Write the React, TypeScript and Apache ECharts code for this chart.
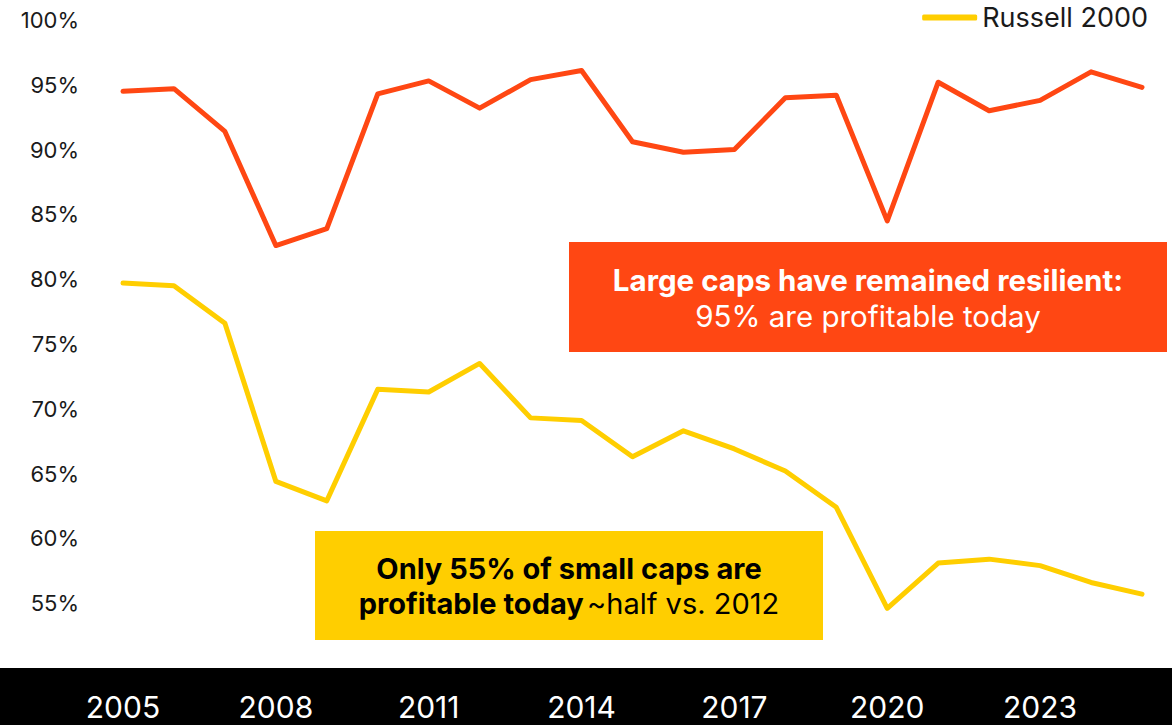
import React, { useEffect, useRef } from "react";
import * as echarts from "echarts";

const years = [
  "2005", "2006", "2007", "2008", "2009", "2010", "2011", "2012", "2013", "2014",
  "2015", "2016", "2017", "2018", "2019", "2020", "2021", "2022", "2023", "2024", "2025",
];
const sp500 = [
  94.5, 94.7, 91.4, 82.6, 83.9, 94.3, 95.3, 93.2, 95.4, 96.1,
  90.6, 89.8, 90.0, 94.0, 94.2, 84.5, 95.2, 93.0, 93.8, 96.0, 94.8,
];
const russell2000 = [
  79.7, 79.5, 76.6, 64.4, 62.9, 71.5, 71.3, 73.5, 69.3, 69.1,
  66.3, 68.3, 66.9, 65.2, 62.4, 54.6, 58.1, 58.4, 57.9, 56.6, 55.7,
];
const yTicks = { min: 50, max: 100, interval: 5 };

const RED = "#FF4713";
const YELLOW = "#FFCE00";
const FONT = "Inter, 'Noto Sans', sans-serif";

export default function App() {
  const ref = useRef<HTMLDivElement>(null);
  useEffect(() => {
    if (!ref.current) return;
    const chart = echarts.init(ref.current, undefined, { renderer: "svg" });
    chart.setOption({
      animation: false,
      textStyle: { fontFamily: FONT },
      grid: { left: 123, right: 30, top: 20, bottom: 57 },
      legend: {
        data: ["Russell 2000"],
        right: 24,
        top: 4,
        padding: 0,
        icon: "roundRect",
        itemWidth: 55,
        itemHeight: 6,
        itemGap: 5,
        textStyle: { fontSize: 27, color: "#1a1a1a", fontFamily: FONT },
      },
      xAxis: {
        type: "category",
        data: years,
        boundaryGap: false,
        axisLine: { show: false },
        axisTick: { show: false },
        axisLabel: {
          interval: 2,
          color: "#ffffff",
          fontSize: 30,
          margin: 24,
          fontFamily: FONT,
        },
        z: 10,
      },
      yAxis: {
        type: "value",
        min: yTicks.min,
        max: yTicks.max,
        interval: yTicks.interval,
        splitLine: { show: false },
        axisLine: { show: false },
        axisTick: { show: false },
        axisLabel: {
          showMinLabel: false,
          color: "#1a1a1a",
          fontSize: 22,
          margin: 44,
          fontFamily: FONT,
          formatter: (v: number) => (v === yTicks.min ? "" : v + "%"),
        },
      },
      series: [
        {
          name: "S&P 500",
          type: "line",
          data: sp500,
          showSymbol: false,
          symbol: "none",
          color: RED,
          lineStyle: { width: 5, color: RED, cap: "round", join: "round" },
        },
        {
          name: "Russell 2000",
          type: "line",
          data: russell2000,
          showSymbol: false,
          symbol: "none",
          color: YELLOW,
          lineStyle: { width: 5, color: YELLOW, cap: "round", join: "round" },
        },
      ],
      graphic: [
        {
          type: "rect",
          z: -1,
          shape: { x: 0, y: 668, width: 1172, height: 57 },
          style: { fill: "#000000" },
        },
        {
          type: "group",
          z: 100,
          children: [
            {
              type: "rect",
              shape: { x: 569, y: 242, width: 598, height: 110 },
              style: { fill: RED },
            },
            {
              type: "text",
              x: 868,
              y: 298,
              style: {
                text: "{b|Large caps have remained resilient:}\n{n|95% are profitable today}",
                align: "center",
                verticalAlign: "middle",
                fill: "#ffffff",
                rich: {
                  b: { fontSize: 29.5, fontWeight: "bold", fontFamily: FONT, lineHeight: 36, fill: "#ffffff" },
                  n: { fontSize: 29.5, fontFamily: FONT, lineHeight: 36, fill: "#ffffff" },
                },
              },
            },
            {
              type: "rect",
              shape: { x: 315, y: 531, width: 508, height: 109 },
              style: { fill: YELLOW },
            },
            {
              type: "text",
              x: 569,
              y: 586,
              style: {
                text: "{b|Only 55% of small caps are}\n{b|profitable today} {n|~half vs. 2012}",
                align: "center",
                verticalAlign: "middle",
                fill: "#000000",
                rich: {
                  b: { fontSize: 29, fontWeight: "bold", fontFamily: FONT, lineHeight: 35, fill: "#000000" },
                  n: { fontSize: 29, fontFamily: FONT, lineHeight: 35, fill: "#000000" },
                },
              },
            },
          ],
        },
      ],
    });
    return () => chart.dispose();
  }, []);
  return (
    <div
      ref={ref}
      style={{ position: "fixed", left: 0, top: 0, width: 1172, height: 725, background: "#ffffff" }}
    />
  );
}
